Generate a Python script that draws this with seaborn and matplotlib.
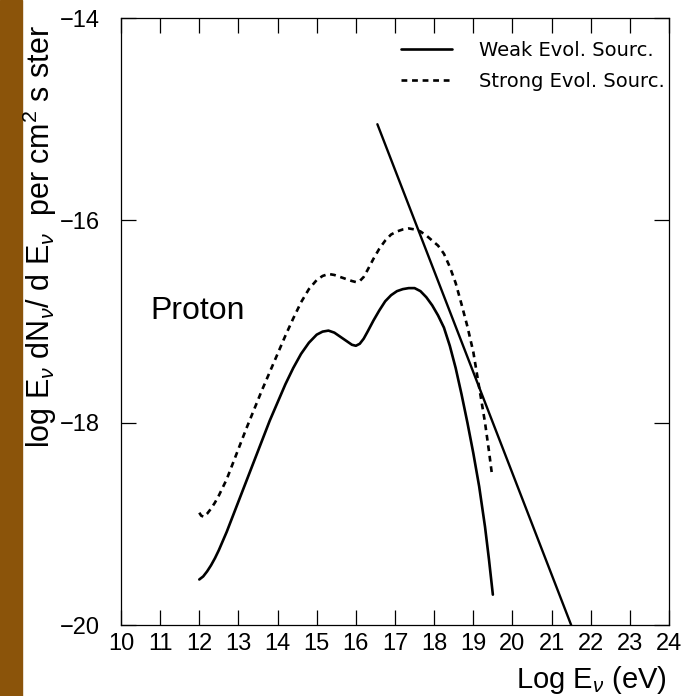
import numpy as np
import pandas as pd
import seaborn as sns
import matplotlib.pyplot as plt
from matplotlib.patches import Rectangle

# curves
weak_x = [12.0, 12.1, 12.2, 12.3, 12.4, 12.5, 12.6, 12.7, 12.8, 12.9, 13.0, 13.2,
          13.4, 13.6, 13.8, 14.0, 14.2, 14.4, 14.6, 14.8, 15.0, 15.15, 15.3, 15.45,
          15.6, 15.75, 15.9, 16.0, 16.1, 16.2, 16.3, 16.45, 16.6, 16.75, 16.9, 17.05,
          17.2, 17.35, 17.5, 17.65, 17.8, 17.95, 18.1, 18.25, 18.4, 18.55, 18.7, 18.85,
          19.0, 19.15, 19.3, 19.4, 19.5]
weak_y = [-19.55, -19.52, -19.47, -19.41, -19.34, -19.26, -19.17, -19.08, -18.98, -18.88,
          -18.78, -18.58, -18.38, -18.18, -17.98, -17.80, -17.62, -17.46, -17.32, -17.21,
          -17.13, -17.10, -17.09, -17.11, -17.15, -17.19, -17.23, -17.24, -17.22, -17.17,
          -17.10, -16.99, -16.89, -16.80, -16.74, -16.70, -16.68, -16.67, -16.67, -16.70,
          -16.76, -16.84, -16.94, -17.06, -17.24, -17.46, -17.72, -18.00, -18.30, -18.63,
          -19.03, -19.35, -19.70]

strong_x = [12.0, 12.05, 12.12, 12.2, 12.3, 12.4, 12.5, 12.6, 12.7, 12.8, 12.9, 13.0,
            13.2, 13.4, 13.6, 13.8, 14.0, 14.2, 14.4, 14.6, 14.8, 15.0, 15.15, 15.3,
            15.45, 15.6, 15.75, 15.9, 16.0, 16.1, 16.2, 16.3, 16.45, 16.6, 16.75, 16.9,
            17.05, 17.2, 17.35, 17.5, 17.65, 17.8, 17.95, 18.1, 18.25, 18.4, 18.55, 18.7,
            18.85, 19.0, 19.15, 19.3, 19.4, 19.48]
strong_y = [-18.89, -18.92, -18.93, -18.90, -18.85, -18.79, -18.72, -18.64, -18.56, -18.46,
            -18.36, -18.26, -18.06, -17.87, -17.68, -17.50, -17.32, -17.14, -16.97, -16.81,
            -16.68, -16.59, -16.55, -16.53, -16.54, -16.56, -16.58, -16.60, -16.61, -16.60,
            -16.56, -16.49, -16.38, -16.28, -16.20, -16.14, -16.11, -16.09, -16.08, -16.09,
            -16.11, -16.15, -16.20, -16.25, -16.33, -16.46, -16.62, -16.83, -17.05, -17.30,
            -17.65, -18.00, -18.28, -18.52]

line_x = [16.55, 21.5]
line_y = [-15.05, -20.0]

xticks = list(range(10, 25))
yticks = [-20, -18, -16, -14]
labels = ["Weak Evol. Sourc.", "Strong Evol. Sourc."]

sns.set_style("ticks")
plt.rcParams['font.family'] = ['Liberation Sans', 'DejaVu Sans']
plt.rcParams['mathtext.fontset'] = 'custom'
plt.rcParams['mathtext.rm'] = 'Liberation Sans'
plt.rcParams['mathtext.it'] = 'Liberation Sans:italic'
plt.rcParams['text.color'] = 'black'
plt.rcParams['xtick.color'] = 'black'
plt.rcParams['ytick.color'] = 'black'
plt.rcParams['lines.solid_joinstyle'] = 'round'
plt.rcParams['lines.dash_joinstyle'] = 'round'

fig = plt.figure(figsize=(6.98, 6.96), dpi=100)
ax = fig.add_axes([121 / 698, 71 / 696, 548 / 698, 607 / 696])

weak = pd.DataFrame({'x': weak_x, 'y': weak_y})
strong = pd.DataFrame({'x': strong_x, 'y': strong_y})
sns.lineplot(data=weak, x='x', y='y', ax=ax, color='black', lw=1.9, sort=False,
             label=labels[0])
sns.lineplot(data=strong, x='x', y='y', ax=ax, color='black', lw=1.9, sort=False,
             linestyle=(0, (2.2, 1.8)), label=labels[1])
sns.lineplot(x=line_x, y=line_y, ax=ax, color='black', lw=1.7)

ax.set_xlim(10, 24)
ax.set_ylim(-20, -14)
ax.set_xticks(xticks)
ax.set_yticks(yticks)
ax.set_yticklabels(['\u221220', '\u221218', '\u221216', '\u221214'])
ax.tick_params(direction='in', length=11, width=0.9, labelsize=17, color='black',
               labelcolor='black', top=True, right=True)
ax.tick_params(axis='x', pad=6)
ax.tick_params(axis='y', pad=15)
ax.tick_params(labelright=False, labeltop=False)
for s in ax.spines.values():
    s.set_linewidth(0.9)
    s.set_color('black')
ax.set_xlabel('')
ax.set_ylabel('')

ax.text(10.74, -16.9, 'Proton', fontsize=23, va='center', ha='left')

leg = ax.legend(loc='upper left', bbox_to_anchor=(0.511, 0.962), frameon=False,
                borderpad=0, borderaxespad=0, handlelength=2.6, handletextpad=1.4,
                labelspacing=0.6, prop={'family': 'DejaVu Sans', 'size': 14})

fig.text(667 / 698, 1 - 680 / 696, r'Log E$_\nu$ (eV)', fontsize=21,
         ha='right', va='center')
fig.text(40 / 698, 1 - 237 / 696,
         r'log E$_\nu$ dN$_\nu$/ d E$_\nu$  per cm$^2$ s ster',
         fontsize=22, rotation=90, ha='center', va='center')

fig.patches.append(Rectangle((0, 0), 22 / 698, 1, transform=fig.transFigure,
                             color='#8b540a', zorder=-1))

fig.savefig('out.png', dpi=100)
